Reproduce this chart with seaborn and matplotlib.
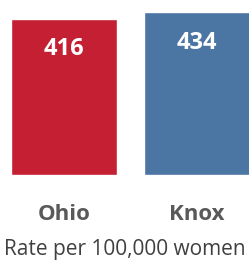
import pandas as pd
import seaborn as sns
import matplotlib.pyplot as plt

# Data
places = ["Ohio", "Knox"]
rates = [416, 434]
bar_colors = ["#C51F33", "#4B75A2"]
caption = "Rate per 100,000 women"

sns.set_style("white")
plt.rcParams['font.family'] = ['Open Sans', 'DejaVu Sans']

df = pd.DataFrame({"place": places, "rate": rates})

fig = plt.figure(figsize=(2.49, 2.64), dpi=100)
ax = fig.add_axes([0, 89 / 264, 1, 175 / 264])

sns.barplot(data=df, x="place", y="rate", hue="place", palette=bar_colors,
            legend=False, width=0.8, saturation=1, ax=ax)

# value labels inside the top of each bar
for p, v in zip(ax.patches, rates):
    ax.annotate(f"{v}", (p.get_x() + p.get_width() / 2, p.get_height()),
                xytext=(0, -22), textcoords="offset points",
                ha="center", va="center", color="white",
                fontsize=17, fontweight="bold")

ax.set_xlim(-0.483, 1.39)
ax.set_ylim(0, 466)
ax.set_xlabel("")
ax.set_ylabel("")
ax.set_yticks([])
ax.tick_params(axis="x", length=0, pad=21, labelsize=16, labelcolor="#595959")
for lbl in ax.get_xticklabels():
    lbl.set_fontweight("bold")
sns.despine(ax=ax, left=True, bottom=True)

fig.text(0.5, 15 / 264, caption, ha="center", va="center",
         fontsize=15, color="#404040")

fig.savefig("out.png", dpi=100)
